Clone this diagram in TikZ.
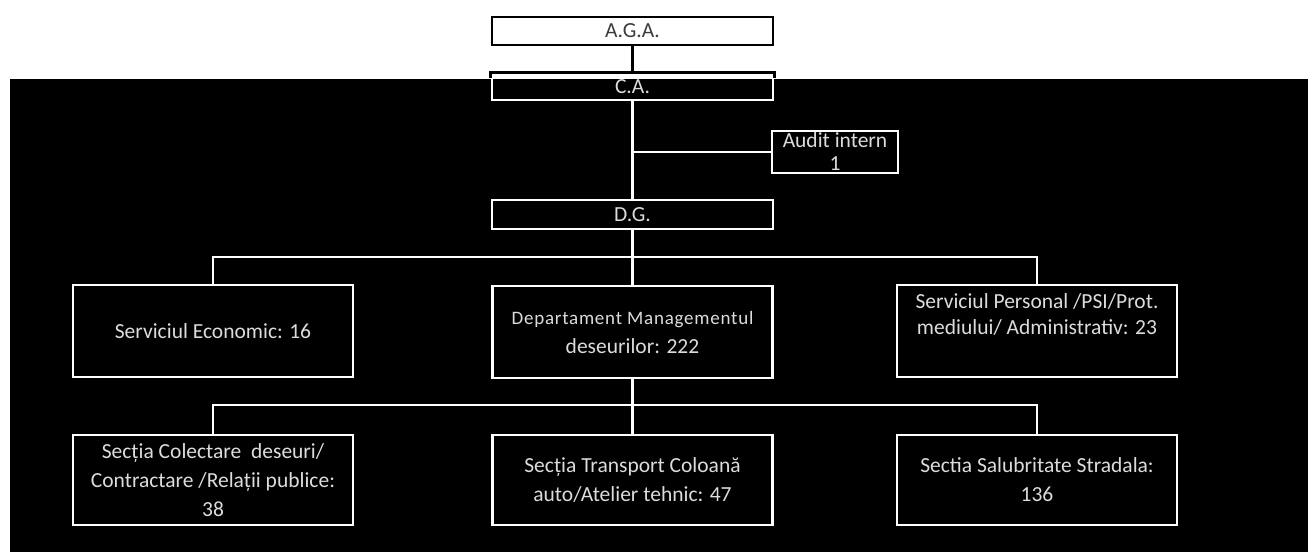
\documentclass[tikz,border=0pt]{standalone}
\usepackage{fontspec}
\setmainfont{Carlito}
\usetikzlibrary{positioning,calc}
\definecolor{orgtext}{RGB}{220,220,220}
\definecolor{agatext}{RGB}{60,60,60}

\begin{document}
\begin{tikzpicture}[x=1pt,y=-1pt,
    box/.style={draw=white, line width=2.8pt, fill=black, text=orgtext, align=center,
        minimum width=280pt, minimum height=92pt, inner sep=2pt,
        font=\fontsize{21.5}{29}\selectfont},
    link/.style={white, line width=2.8pt}]
    \useasboundingbox (0,0) rectangle (1308,552);
    \fill[white] (0,0) rectangle (1308,552);
    \fill[black] (10,79) rectangle (1308,552);

    % A.G.A.
    \node[box, draw=black, fill=white, text=agatext, minimum width=281pt, minimum height=28pt] (aga) at (632.5,31) {A.G.A.};

    % C.A.
    \node[box, fill=none, minimum width=281pt, minimum height=26pt] (ca) at (632.5,87) {C.A.};
    \draw[black, line width=2.8pt] ([yshift=-5pt]ca.north west) -- (ca.north west) -- (ca.north east) -- ([yshift=-5pt]ca.north east);
    \draw[black, line width=2.8pt] (aga) -- (ca);

    % Audit intern
    \node[box, minimum width=126pt, minimum height=42pt, inner sep=0pt, font=\fontsize{21.5}{23}\selectfont] (audit) at (835,152) {Audit intern\\1};

    % D.G.
    \node[box, minimum width=281pt, minimum height=29pt] (dg) at (632.5,214.5) {D.G.};
    \draw[link] (ca) -- (dg);
    \draw[link] (ca.south |- audit.west) -- (audit.west);

    % Servicii / departament
    \node[box] (econ) at (213,331) {Serviciul Economic: 16};
    \node[box] (dep) at (632.5,332) {{\fontsize{19}{29}\selectfont\addfontfeature{LetterSpace=4}Departament Managementul}\\deseurilor: 222};
    \node[box, font=\fontsize{21.5}{26}\selectfont] (pers) at (1037,331) {Serviciul Personal /PSI/Prot.\\mediului/ Administrativ: 23\\\strut};
    \coordinate (busA) at (632.5,257);
    \draw[link] (dg) -- (dep);
    \draw[link] (econ.north) |- (busA) -| (pers.north);

    % Sectii
    \node[box, minimum height=90pt] (col) at (213,480) {Secția Colectare \ deseuri/\\Contractare /Relații publice:\\38};
    \node[box, minimum height=90pt] (trans) at (632.5,480) {Secția Transport Coloană\\auto/Atelier tehnic: 47};
    \node[box, minimum height=90pt] (salub) at (1037,480) {Sectia Salubritate Stradala:\\136};
    \coordinate (busB) at (632.5,405);
    \draw[link] (dep) -- (trans);
    \draw[link] (col.north) |- (busB) -| (salub.north);
\end{tikzpicture}
\end{document}
